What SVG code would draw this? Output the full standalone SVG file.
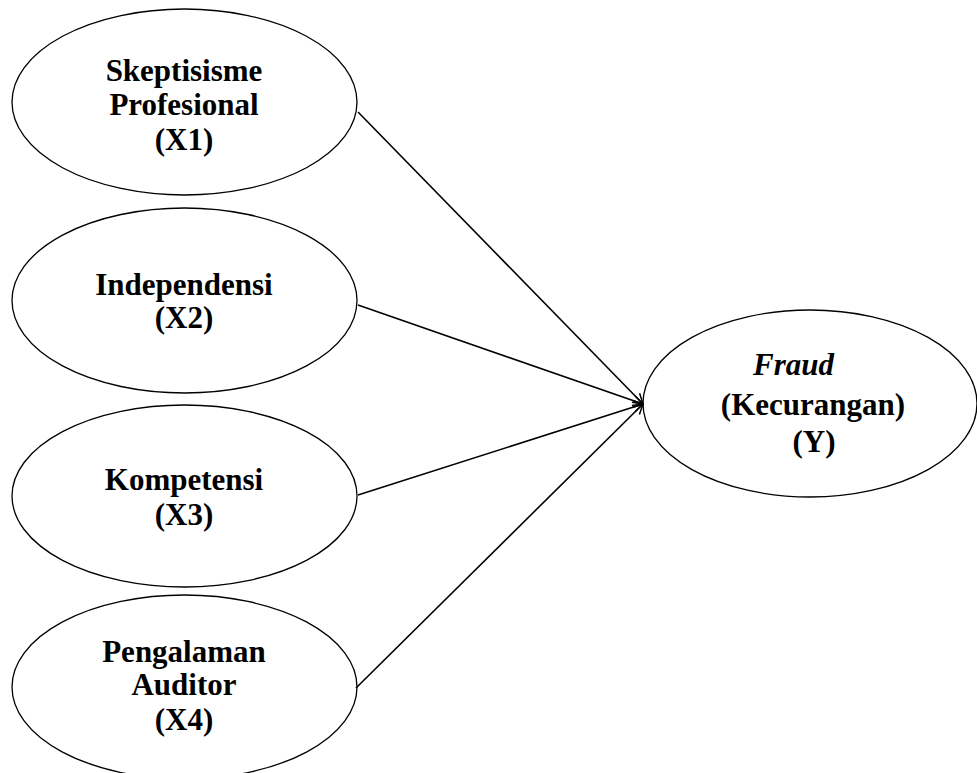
<svg xmlns="http://www.w3.org/2000/svg" width="977" height="773" viewBox="0 0 977 773">
<style>
.node ellipse{fill:#fff;stroke:#000;stroke-width:1.3}
.node text{font-family:"Liberation Serif","Times New Roman",serif;font-weight:bold;font-size:31px;fill:#000;text-anchor:middle}
.conn line{stroke:#000;stroke-width:1.6;fill:none}
</style>
<defs>
<marker id="arr" viewBox="0 0 12 12" refX="11" refY="6" markerWidth="12" markerHeight="12" markerUnits="userSpaceOnUse" orient="auto">
<path d="M1,1 L11,6 L1,11" fill="none" stroke="#000" stroke-width="1.5"/>
</marker>
</defs>
<rect width="977" height="773" fill="#fff"/>
<g id="n-x1" class="node">
<ellipse cx="184.5" cy="102" rx="172.5" ry="93"/>
<text x="184" y="81">Skeptisisme</text>
<text x="184" y="115">Profesional</text>
<text x="184" y="150">(X1)</text>
</g>
<g id="n-x2" class="node">
<ellipse cx="184.5" cy="300.5" rx="172.5" ry="92.5"/>
<text x="184" y="295">Independensi</text>
<text x="184" y="328">(X2)</text>
</g>
<g id="n-x3" class="node">
<ellipse cx="184.5" cy="496" rx="172.5" ry="91"/>
<text x="184" y="490">Kompetensi</text>
<text x="184" y="525">(X3)</text>
</g>
<g id="n-x4" class="node">
<ellipse cx="184.5" cy="687" rx="172.5" ry="92"/>
<text x="184" y="662">Pengalaman</text>
<text x="184" y="695">Auditor</text>
<text x="184" y="730">(X4)</text>
</g>
<g id="n-y" class="node">
<ellipse cx="810" cy="403.5" rx="167" ry="93.5"/>
<text x="753" y="375" style="text-anchor:start;font-style:italic">Fraud</text>
<text x="813" y="415">(Kecurangan)</text>
<text x="814" y="452">(Y)</text>
</g>
<g id="connectors" class="conn">
<line x1="358" y1="112" x2="643" y2="404" marker-end="url(#arr)"/>
<line x1="358" y1="305" x2="643" y2="404" marker-end="url(#arr)"/>
<line x1="358" y1="495" x2="643" y2="404" marker-end="url(#arr)"/>
<line x1="356" y1="688" x2="643" y2="404" marker-end="url(#arr)"/>
</g>
</svg>
